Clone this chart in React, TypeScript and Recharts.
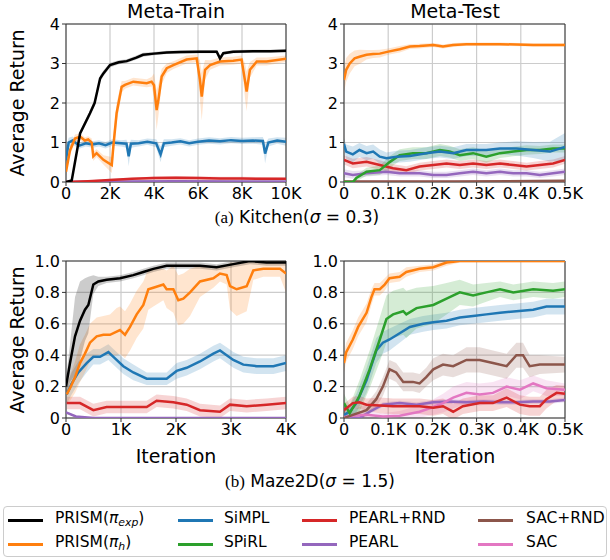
import React from "react";
import {
  ComposedChart,
  Line,
  Area,
  XAxis,
  YAxis,
  CartesianGrid,
  ReferenceArea,
} from "recharts";

const FONT = "'DejaVu Sans', sans-serif";
const SERIF = "'Liberation Serif', 'DejaVu Serif', serif";

const C = {
  exp: "#000000",
  h: "#ff7f0e",
  simpl: "#1f77b4",
  spirl: "#2ca02c",
  pearlRnd: "#d62728",
  pearl: "#9467bd",
  sacRnd: "#8c564b",
  sac: "#e377c2",
};

// [iteration, mean return, half band width]
type Pt = [number, number, number];

// ---- Kitchen, meta-train ----
const kitTrainXTicks = [0, 2000, 4000, 6000, 8000, 10000];
const kitYTicks = [0, 1, 2, 3, 4];

const kitTrainExp: Pt[] = [
  [0, 0, 0.01], [260, 0.04, 0.03], [640, 1.23, 0.06], [1090, 1.74, 0.08], [1300, 2.0, 0.08],
  [1550, 2.62, 0.08], [1700, 2.75, 0.07], [2000, 2.96, 0.06], [2400, 3.03, 0.05], [2760, 3.06, 0.05],
  [3200, 3.15, 0.05], [3500, 3.22, 0.05], [4000, 3.25, 0.04], [4580, 3.28, 0.04], [5200, 3.29, 0.04],
  [6090, 3.3, 0.04], [6850, 3.3, 0.04], [7000, 3.13, 0.05], [7150, 3.26, 0.04], [7600, 3.3, 0.04],
  [8500, 3.31, 0.04], [9300, 3.31, 0.04], [10000, 3.32, 0.04],
];
const kitTrainH: Pt[] = [
  [0, 0.26, 0.1], [180, 0.8, 0.12], [410, 1.1, 0.1], [640, 1.15, 0.08], [860, 1.05, 0.08],
  [1010, 1.08, 0.08], [1170, 1.0, 0.1], [1240, 0.65, 0.12], [1390, 0.73, 0.1], [1700, 0.56, 0.12],
  [2080, 0.43, 0.2], [2150, 0.89, 0.3], [2300, 1.74, 0.25], [2530, 2.41, 0.15], [2680, 2.46, 0.1],
  [3060, 2.54, 0.1], [3670, 2.5, 0.1], [3890, 2.54, 0.12], [4000, 2.45, 0.3], [4120, 1.82, 0.5],
  [4200, 2.08, 0.4], [4350, 2.67, 0.2], [4580, 2.88, 0.12], [4880, 2.96, 0.1], [5480, 3.1, 0.1],
  [5940, 3.13, 0.1], [6090, 2.58, 0.5], [6170, 2.16, 0.6], [6320, 2.84, 0.25], [6550, 2.96, 0.12],
  [7000, 3.05, 0.1], [7600, 3.07, 0.1], [7980, 3.1, 0.1], [8140, 2.55, 0.45], [8210, 2.29, 0.5],
  [8360, 2.84, 0.2], [8670, 3.05, 0.1], [9120, 3.05, 0.1], [10000, 3.12, 0.08],
];
const kitTrainSimpl: Pt[] = [
  [0, 0.55, 0.3], [120, 1.0, 0.12], [300, 1.05, 0.1], [600, 0.92, 0.08], [900, 0.98, 0.08],
  [1200, 0.95, 0.08], [1500, 0.98, 0.08], [1800, 0.93, 0.08], [2100, 1.0, 0.08], [2500, 0.98, 0.08],
  [2750, 0.97, 0.1], [2850, 0.65, 0.25], [2950, 0.97, 0.1], [3300, 0.98, 0.08], [3700, 1.02, 0.08],
  [4100, 0.98, 0.1], [4300, 0.7, 0.2], [4450, 0.98, 0.1], [4800, 1.0, 0.08], [5200, 1.03, 0.08],
  [5600, 0.98, 0.08], [6000, 1.02, 0.08], [6500, 1.05, 0.08], [7000, 1.03, 0.08], [7500, 1.06, 0.08],
  [8000, 1.04, 0.08], [8500, 1.05, 0.08], [8950, 1.04, 0.1], [9050, 0.72, 0.25], [9200, 1.0, 0.1],
  [9600, 1.05, 0.08], [10000, 1.02, 0.1],
];
const kitTrainPearlRnd: Pt[] = [
  [0, 0.0, 0.01], [1000, 0.02, 0.02], [2000, 0.05, 0.03], [3000, 0.08, 0.03], [4000, 0.1, 0.04],
  [5000, 0.11, 0.04], [6000, 0.1, 0.04], [7000, 0.09, 0.04], [8000, 0.09, 0.04], [9000, 0.08, 0.04],
  [10000, 0.08, 0.03],
];
const kitTrainPearl: Pt[] = [
  [0, 0.0, 0.01], [2000, 0.01, 0.01], [5000, 0.02, 0.01], [10000, 0.01, 0.01],
];

// ---- Kitchen, meta-test ----
const testXTicks = [0, 100, 200, 300, 400, 500];

const kitTestH: Pt[] = [
  [0, 2.58, 0.3], [5, 2.84, 0.3], [13, 3.0, 0.25], [24, 3.13, 0.2], [35, 3.17, 0.18],
  [51, 3.22, 0.12], [66, 3.24, 0.1], [81, 3.25, 0.1], [100, 3.3, 0.08], [126, 3.36, 0.08],
  [149, 3.43, 0.06], [171, 3.44, 0.06], [202, 3.47, 0.05], [224, 3.43, 0.05], [247, 3.47, 0.05],
  [277, 3.49, 0.04], [353, 3.49, 0.04], [428, 3.47, 0.04], [500, 3.47, 0.04],
];
const kitTestSimpl: Pt[] = [
  [0, 0.96, 0.15], [5, 0.77, 0.18], [20, 0.7, 0.2], [35, 0.81, 0.18], [51, 0.73, 0.18],
  [66, 0.77, 0.18], [81, 0.64, 0.18], [96, 0.6, 0.15], [119, 0.64, 0.15], [149, 0.66, 0.15],
  [186, 0.73, 0.15], [217, 0.77, 0.15], [247, 0.73, 0.15], [277, 0.81, 0.15], [322, 0.81, 0.15],
  [353, 0.85, 0.15], [390, 0.85, 0.18], [428, 0.81, 0.2], [466, 0.77, 0.25], [500, 0.89, 0.35],
];
const kitTestSpirl: Pt[] = [
  [0, 0, 0.03], [20, 0.0, 0.04], [28, 0.1, 0.08], [51, 0.26, 0.1], [81, 0.3, 0.12],
  [104, 0.51, 0.15], [126, 0.68, 0.15], [156, 0.73, 0.15], [186, 0.73, 0.15], [217, 0.81, 0.15],
  [239, 0.77, 0.15], [262, 0.68, 0.15], [292, 0.73, 0.15], [322, 0.64, 0.15], [353, 0.73, 0.12],
  [383, 0.77, 0.12], [413, 0.81, 0.12], [443, 0.81, 0.1], [473, 0.85, 0.1], [500, 0.85, 0.1],
];
const kitTestPearlRnd: Pt[] = [
  [0, 0.56, 0.12], [20, 0.47, 0.12], [51, 0.51, 0.12], [81, 0.43, 0.12], [111, 0.35, 0.1],
  [141, 0.3, 0.1], [171, 0.39, 0.1], [202, 0.43, 0.1], [232, 0.47, 0.1], [262, 0.43, 0.1],
  [292, 0.47, 0.1], [322, 0.43, 0.1], [353, 0.47, 0.1], [383, 0.43, 0.1], [413, 0.39, 0.1],
  [443, 0.43, 0.1], [473, 0.47, 0.1], [500, 0.56, 0.1],
];
const kitTestPearl: Pt[] = [
  [0, 0.22, 0.1], [20, 0.18, 0.1], [51, 0.22, 0.08], [96, 0.26, 0.08], [126, 0.22, 0.08],
  [171, 0.22, 0.08], [202, 0.18, 0.08], [232, 0.18, 0.08], [262, 0.22, 0.08], [292, 0.26, 0.08],
  [322, 0.22, 0.08], [353, 0.26, 0.08], [383, 0.22, 0.08], [413, 0.22, 0.08], [443, 0.18, 0.08],
  [473, 0.22, 0.08], [500, 0.26, 0.08],
];
const kitTestSacRnd: Pt[] = [
  [0, 0.01, 0.01], [250, 0.01, 0.01], [500, 0.03, 0.02],
];
const kitTestSac: Pt[] = [
  [0, 0.0, 0.01], [500, 0.0, 0.01],
];

// ---- Maze2D, meta-train ----
const mazeTrainXTicks = [0, 1000, 2000, 3000, 4000];
const mazeYTicks = [0, 0.2, 0.4, 0.6, 0.8, 1.0];

const mazeTrainExp: Pt[] = [
  [0, 0.2, 0.05], [73, 0.35, 0.12], [164, 0.52, 0.25], [255, 0.62, 0.25], [345, 0.69, 0.2],
  [406, 0.72, 0.18], [497, 0.85, 0.06], [588, 0.87, 0.03], [739, 0.88, 0.02], [982, 0.89, 0.02],
  [1224, 0.91, 0.02], [1406, 0.93, 0.02], [1588, 0.95, 0.02], [1830, 0.97, 0.02], [2194, 0.97, 0.02],
  [2436, 0.97, 0.02], [2739, 0.96, 0.02], [3042, 0.98, 0.02], [3345, 1.0, 0.02], [3648, 0.99, 0.02],
  [4000, 0.99, 0.02],
];
const mazeTrainH: Pt[] = [
  [12, 0.15, 0.05], [73, 0.19, 0.08], [164, 0.26, 0.1], [255, 0.35, 0.12], [345, 0.41, 0.12],
  [436, 0.48, 0.12], [558, 0.52, 0.12], [679, 0.53, 0.12], [800, 0.53, 0.13], [921, 0.55, 0.15],
  [982, 0.56, 0.15], [1073, 0.53, 0.15], [1164, 0.58, 0.15], [1285, 0.66, 0.15], [1406, 0.72, 0.15],
  [1497, 0.82, 0.13], [1588, 0.83, 0.12], [1770, 0.85, 0.1], [1830, 0.82, 0.12], [1952, 0.82, 0.15],
  [2042, 0.75, 0.16], [2133, 0.76, 0.16], [2255, 0.8, 0.15], [2436, 0.87, 0.1], [2679, 0.89, 0.06],
  [2800, 0.92, 0.05], [2921, 0.91, 0.06], [2982, 0.84, 0.15], [3103, 0.82, 0.17], [3285, 0.84, 0.16],
  [3406, 0.94, 0.06], [3588, 0.95, 0.05], [3891, 0.95, 0.05], [4000, 0.92, 0.12],
];
const mazeTrainSimpl: Pt[] = [
  [12, 0.15, 0.06], [103, 0.22, 0.07], [224, 0.29, 0.07], [376, 0.35, 0.06], [497, 0.39, 0.05],
  [618, 0.39, 0.05], [770, 0.42, 0.05], [891, 0.38, 0.05], [1042, 0.33, 0.05], [1224, 0.29, 0.05],
  [1467, 0.25, 0.04], [1709, 0.25, 0.04], [1830, 0.25, 0.04], [2012, 0.3, 0.05], [2194, 0.32, 0.05],
  [2436, 0.36, 0.05], [2679, 0.41, 0.05], [2800, 0.43, 0.05], [2921, 0.4, 0.05], [3042, 0.37, 0.05],
  [3224, 0.34, 0.05], [3467, 0.33, 0.05], [3770, 0.33, 0.05], [4000, 0.35, 0.05],
];
const mazeTrainPearlRnd: Pt[] = [
  [12, 0.095, 0.04], [255, 0.095, 0.04], [497, 0.05, 0.04], [739, 0.07, 0.04], [1103, 0.07, 0.04],
  [1467, 0.07, 0.04], [1648, 0.11, 0.04], [1952, 0.1, 0.04], [2194, 0.085, 0.04], [2436, 0.05, 0.04],
  [2800, 0.04, 0.04], [2982, 0.085, 0.04], [3285, 0.075, 0.04], [3648, 0.085, 0.04], [4000, 0.095, 0.04],
];
const mazeTrainPearl: Pt[] = [
  [0, 0.036, 0.005], [180, 0.01, 0.005], [500, 0.0, 0.003], [4000, 0.0, 0.003],
];

// ---- Maze2D, meta-test ----
const mazeTestH: Pt[] = [
  [0, 0.35, 0.06], [5, 0.42, 0.06], [20, 0.5, 0.06], [32, 0.58, 0.06], [51, 0.67, 0.06],
  [62, 0.77, 0.05], [69, 0.82, 0.04], [81, 0.82, 0.04], [92, 0.85, 0.04], [103, 0.89, 0.03],
  [126, 0.9, 0.03], [141, 0.93, 0.03], [171, 0.95, 0.02], [202, 0.96, 0.02], [232, 0.99, 0.02],
  [262, 1.0, 0.01], [307, 1.0, 0.01], [500, 1.0, 0.01],
];
const mazeTestSpirl: Pt[] = [
  [0, 0.095, 0.06], [13, 0.03, 0.05], [35, 0.14, 0.1], [58, 0.31, 0.12], [81, 0.5, 0.14],
  [96, 0.63, 0.15], [111, 0.66, 0.15], [134, 0.68, 0.15], [141, 0.66, 0.15], [164, 0.7, 0.13],
  [202, 0.72, 0.12], [232, 0.76, 0.1], [262, 0.8, 0.08], [292, 0.78, 0.07], [322, 0.8, 0.06],
  [353, 0.82, 0.05], [383, 0.8, 0.05], [428, 0.82, 0.05], [473, 0.81, 0.05], [500, 0.82, 0.05],
];
const mazeTestSimpl: Pt[] = [
  [0, 0.02, 0.03], [13, 0.04, 0.04], [28, 0.095, 0.06], [51, 0.24, 0.08], [73, 0.43, 0.08],
  [88, 0.48, 0.07], [103, 0.5, 0.07], [126, 0.54, 0.06], [149, 0.58, 0.05], [179, 0.6, 0.05],
  [202, 0.61, 0.05], [232, 0.62, 0.05], [262, 0.64, 0.05], [292, 0.65, 0.05], [322, 0.66, 0.05],
  [353, 0.67, 0.05], [390, 0.68, 0.05], [428, 0.69, 0.05], [458, 0.71, 0.05], [500, 0.71, 0.05],
];
const mazeTestSacRnd: Pt[] = [
  [0, 0.0, 0.02], [20, 0.02, 0.03], [51, 0.05, 0.04], [73, 0.12, 0.05], [88, 0.2, 0.06],
  [103, 0.31, 0.06], [118, 0.29, 0.06], [134, 0.23, 0.06], [156, 0.23, 0.06], [171, 0.22, 0.06],
  [186, 0.26, 0.06], [202, 0.31, 0.07], [224, 0.34, 0.07], [247, 0.33, 0.07], [277, 0.37, 0.08],
  [307, 0.37, 0.08], [337, 0.35, 0.08], [368, 0.33, 0.08], [390, 0.4, 0.08], [405, 0.4, 0.08],
  [420, 0.33, 0.07], [443, 0.34, 0.06], [500, 0.34, 0.05],
];
const mazeTestSac: Pt[] = [
  [0, 0.01, 0.02], [51, 0.02, 0.02], [88, 0.01, 0.02], [126, 0.015, 0.03], [171, 0.04, 0.04],
  [202, 0.07, 0.05], [224, 0.095, 0.06], [247, 0.13, 0.07], [277, 0.16, 0.07], [307, 0.15, 0.07],
  [337, 0.16, 0.07], [368, 0.2, 0.06], [398, 0.18, 0.06], [428, 0.22, 0.05], [458, 0.19, 0.05],
  [500, 0.18, 0.04],
];
const mazeTestPearlRnd: Pt[] = [
  [0, 0.05, 0.04], [20, 0.095, 0.04], [35, 0.1, 0.04], [51, 0.085, 0.04], [81, 0.08, 0.05],
  [111, 0.075, 0.05], [141, 0.075, 0.05], [171, 0.075, 0.05], [202, 0.065, 0.05], [224, 0.075, 0.05],
  [247, 0.04, 0.05], [269, 0.075, 0.05], [307, 0.095, 0.05], [337, 0.095, 0.05], [368, 0.13, 0.06],
  [398, 0.085, 0.06], [420, 0.075, 0.06], [443, 0.075, 0.06], [458, 0.12, 0.06], [481, 0.16, 0.05],
  [500, 0.155, 0.05],
];
const mazeTestPearl: Pt[] = [
  [0, 0.0, 0.01], [35, 0.0, 0.01], [58, 0.04, 0.015], [88, 0.085, 0.015], [126, 0.095, 0.015],
  [164, 0.085, 0.015], [202, 0.1, 0.015], [239, 0.105, 0.015], [277, 0.1, 0.015], [315, 0.105, 0.015],
  [353, 0.1, 0.015], [390, 0.1, 0.015], [428, 0.105, 0.015], [466, 0.105, 0.015], [500, 0.115, 0.015],
];

type Series = { id: string; color: string; pts: Pt[] };

const kFmt = (v: number) => (v === 0 ? "0" : `${v / 1000}K`);
const intFmt = (v: number) => `${v}`;
const decFmt = (v: number) => (v === 0 ? "0" : v.toFixed(1));

const toRows = (pts: Pt[]) =>
  pts.map(([x, m, s]) => ({ x, y: m, band: [m - s, m + s] }));

type PanelProps = {
  left: number;
  top: number;
  w: number;
  h: number;
  xMax: number;
  xTicks: number[];
  yMax: number;
  yTicks: number[];
  yFmt: (v: number) => string;
  series: Series[];
};

const tickStyle = { fontSize: 16, fill: "#000", fontFamily: FONT };

function Panel({ left, top, w, h, xMax, xTicks, yMax, yTicks, yFmt, series }: PanelProps) {
  const ml = 50;
  const mt = 10;
  return (
    <div style={{ position: "absolute", left: left - ml, top: top - mt }}>
      <ComposedChart
        width={w + ml + 24}
        height={h + mt + 32}
        margin={{ top: mt, right: 24, left: 0, bottom: 0 }}
        style={{ overflow: "visible" }}
      >
        <CartesianGrid stroke="#cccccc" strokeWidth={1.2} />
        <XAxis
          dataKey="x"
          type="number"
          domain={[0, xMax]}
          ticks={xTicks}
          interval={0}
          tickFormatter={kFmt}
          allowDataOverflow
          height={32}
          tick={tickStyle}
          tickLine={{ stroke: "#333" }}
          axisLine={false}
          tickSize={4}
          tickMargin={2}
        />
        <YAxis
          type="number"
          domain={[0, yMax]}
          ticks={yTicks}
          interval={0}
          tickFormatter={yFmt}
          allowDataOverflow
          width={ml}
          tick={tickStyle}
          tickLine={{ stroke: "#333" }}
          axisLine={false}
          tickSize={4}
          tickMargin={2}
        />
        {series.map((s) => (
          <Area
            key={`band-${s.id}`}
            data={toRows(s.pts)}
            dataKey="band"
            type="linear"
            stroke="none"
            fill={s.color}
            fillOpacity={0.2}
            isAnimationActive={false}
          />
        ))}
        {series.map((s) => (
          <Line
            key={`line-${s.id}`}
            data={toRows(s.pts)}
            dataKey="y"
            type="linear"
            stroke={s.color}
            strokeWidth={2.5}
            dot={false}
            activeDot={false}
            isAnimationActive={false}
          />
        ))}
        <ReferenceArea
          x1={0}
          x2={xMax}
          y1={0}
          y2={yMax}
          fill="none"
          stroke="#333"
          strokeWidth={1}
          ifOverflow="visible"
        />
      </ComposedChart>
    </div>
  );
}

const abs = (extra: React.CSSProperties): React.CSSProperties => ({
  position: "absolute",
  fontFamily: FONT,
  color: "#000",
  whiteSpace: "nowrap",
  lineHeight: 1,
  ...extra,
});

const legendItems: { label: React.ReactNode; color: string; col: number; row: number }[] = [
  {
    label: (
      <>
        PRISM(<i>π</i>
        <span style={{ fontSize: "0.7em", fontStyle: "italic", verticalAlign: "-0.3em" }}>exp</span>)
      </>
    ),
    color: C.exp,
    col: 0,
    row: 0,
  },
  {
    label: (
      <>
        PRISM(<i>π</i>
        <span style={{ fontSize: "0.7em", fontStyle: "italic", verticalAlign: "-0.3em" }}>h</span>)
      </>
    ),
    color: C.h,
    col: 0,
    row: 1,
  },
  { label: "SiMPL", color: C.simpl, col: 1, row: 0 },
  { label: "SPiRL", color: C.spirl, col: 1, row: 1 },
  { label: "PEARL+RND", color: C.pearlRnd, col: 2, row: 0 },
  { label: "PEARL", color: C.pearl, col: 2, row: 1 },
  { label: "SAC+RND", color: C.sacRnd, col: 3, row: 0 },
  { label: "SAC", color: C.sac, col: 3, row: 1 },
];
const legendLineX = [8, 178, 302, 478];
const legendTextX = [55, 224, 349, 526];
const legendRowY = [520, 544];

export default function App() {
  return (
    <div style={{ position: "absolute", left: 0, top: 0, width: 610, height: 560, background: "#fff" }}>
      <Panel
        left={66} top={24} w={220} h={158}
        xMax={10000} xTicks={kitTrainXTicks} yMax={4} yTicks={kitYTicks} yFmt={intFmt}
        series={[
          { id: "simpl", color: C.simpl, pts: kitTrainSimpl },
          { id: "pearl", color: C.pearl, pts: kitTrainPearl },
          { id: "pearlRnd", color: C.pearlRnd, pts: kitTrainPearlRnd },
          { id: "h", color: C.h, pts: kitTrainH },
          { id: "exp", color: C.exp, pts: kitTrainExp },
        ]}
      />
      <Panel
        left={344} top={24} w={221} h={158}
        xMax={500} xTicks={testXTicks} yMax={4} yTicks={kitYTicks} yFmt={intFmt}
        series={[
          { id: "sac", color: C.sac, pts: kitTestSac },
          { id: "sacRnd", color: C.sacRnd, pts: kitTestSacRnd },
          { id: "pearl", color: C.pearl, pts: kitTestPearl },
          { id: "pearlRnd", color: C.pearlRnd, pts: kitTestPearlRnd },
          { id: "spirl", color: C.spirl, pts: kitTestSpirl },
          { id: "simpl", color: C.simpl, pts: kitTestSimpl },
          { id: "h", color: C.h, pts: kitTestH },
        ]}
      />
      <Panel
        left={66} top={261} w={220} h={157}
        xMax={4000} xTicks={mazeTrainXTicks} yMax={1} yTicks={mazeYTicks} yFmt={decFmt}
        series={[
          { id: "pearl", color: C.pearl, pts: mazeTrainPearl },
          { id: "pearlRnd", color: C.pearlRnd, pts: mazeTrainPearlRnd },
          { id: "simpl", color: C.simpl, pts: mazeTrainSimpl },
          { id: "h", color: C.h, pts: mazeTrainH },
          { id: "exp", color: C.exp, pts: mazeTrainExp },
        ]}
      />
      <Panel
        left={344} top={261} w={221} h={157}
        xMax={500} xTicks={testXTicks} yMax={1} yTicks={mazeYTicks} yFmt={decFmt}
        series={[
          { id: "pearl", color: C.pearl, pts: mazeTestPearl },
          { id: "sac", color: C.sac, pts: mazeTestSac },
          { id: "sacRnd", color: C.sacRnd, pts: mazeTestSacRnd },
          { id: "simpl", color: C.simpl, pts: mazeTestSimpl },
          { id: "spirl", color: C.spirl, pts: mazeTestSpirl },
          { id: "pearlRnd", color: C.pearlRnd, pts: mazeTestPearlRnd },
          { id: "h", color: C.h, pts: mazeTestH },
        ]}
      />

      {/* titles */}
      <div style={abs({ left: 76, width: 200, top: 2, textAlign: "center", fontSize: 19 })}>Meta-Train</div>
      <div style={abs({ left: 355, width: 200, top: 2, textAlign: "center", fontSize: 19 })}>Meta-Test</div>

      {/* y labels */}
      <div style={abs({ left: 17, top: 103, fontSize: 19, transform: "translate(-50%, -50%) rotate(-90deg)" })}>
        Average Return
      </div>
      <div style={abs({ left: 17, top: 340, fontSize: 19, transform: "translate(-50%, -50%) rotate(-90deg)" })}>
        Average Return
      </div>

      {/* x labels */}
      <div style={abs({ left: 76, width: 200, top: 447, textAlign: "center", fontSize: 19 })}>Iteration</div>
      <div style={abs({ left: 355, width: 200, top: 447, textAlign: "center", fontSize: 19 })}>Iteration</div>

      {/* captions */}
      <div style={abs({ left: 0, width: 594, top: 209, textAlign: "center", fontSize: 17 })}>
        <span style={{ fontFamily: SERIF }}>(a)</span> Kitchen(<i>σ</i> = 0.3)
      </div>
      <div style={abs({ left: 10, width: 600, top: 473, textAlign: "center", fontSize: 17 })}>
        <span style={{ fontFamily: SERIF }}>(b)</span> Maze2D(<i>σ</i> = 1.5)
      </div>

      {/* legend */}
      <div
        style={{
          position: "absolute",
          left: 3,
          top: 506,
          width: 604,
          height: 51,
          border: "1px solid #cccccc",
          borderRadius: 4,
          boxSizing: "border-box",
        }}
      />
      {legendItems.map((it, i) => (
        <React.Fragment key={i}>
          <div
            style={{
              position: "absolute",
              left: legendLineX[it.col],
              top: legendRowY[it.row] - 1.5,
              width: 35,
              height: 3,
              background: it.color,
            }}
          />
          <div style={abs({ left: legendTextX[it.col], top: legendRowY[it.row] - 9, fontSize: 15.5 })}>
            {it.label}
          </div>
        </React.Fragment>
      ))}
    </div>
  );
}
